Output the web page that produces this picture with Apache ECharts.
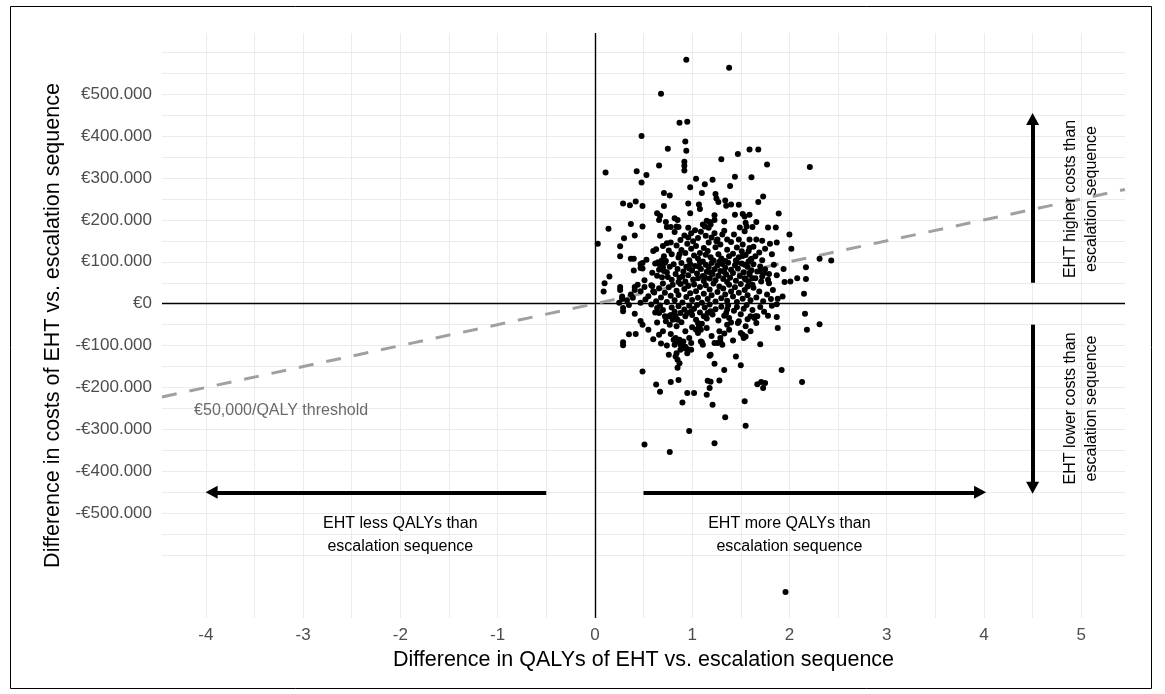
<!doctype html>
<html>
<head>
<meta charset="utf-8">
<title>Cost-effectiveness plane</title>
<script src="https://cdn.jsdelivr.net/npm/echarts@6.0.0/dist/echarts.min.js"></script>
<style>
    html, body { margin: 0; padding: 0; background: #fff; }
    #main { width: 1165px; height: 694px; }
</style>
</head>
<body>
<div id="main"></div>
<script>
// axis setup (QALYs on x, costs in thousands of euro on y)
var xTicks = [-4, -3, -2, -1, 0, 1, 2, 3, 4, 5];
var yTicksK = [-500, -400, -300, -200, -100, 0, 100, 200, 300, 400, 500];
var xGrid = [-4, -3.5, -3, -2.5, -2, -1.5, -1, -0.5, 0, 0.5, 1, 1.5, 2, 2.5, 3, 3.5, 4, 4.5, 5];
var yGridK = [-600, -550, -500, -450, -400, -350, -300, -250, -200, -150, -100, -50, 0,
    50, 100, 150, 200, 250, 300, 350, 400, 450, 500, 550, 600];
var xRange = [-4.45, 5.45];
var yRangeK = [-750, 646];
var thresholdK = 50; // 50.000 euro per QALY

// simulated differences [QALY, cost k€]
var psaPoints = [
    // upper part
    [0.94,582],[1.38,563],[0.68,501],[0.87,432],[0.95,434],[0.48,400],[0.93,387],[0.75,370],[0.94,365],
    [1.59,368],[1.68,368],[1.47,357],[1.30,345],[0.92,339],[0.92,329],[0.92,318],[0.66,330],[0.11,313],
    [0.43,316],[0.53,307],[0.48,289],[1.04,298],[1.21,296],[1.44,303],[1.61,302],[1.77,332],[2.21,326],
    [1.13,285],[0.98,278],[1.39,281],[0.71,264],[0.77,258],[1.10,264],[1.24,262],[1.25,251],[1.27,243],
    [1.34,246],[1.35,234],[0.29,239],[0.36,235],[0.42,244],[0.49,233],[0.71,233],[0.96,239],[1.07,237],
    [1.08,226],[0.98,216],[1.40,237],[1.48,236],[1.44,212],[1.52,214],[1.59,212],[1.73,256],[1.68,243],
    [0.64,216],[0.67,210],[0.66,200],[0.82,204],[0.85,200],[1.23,211],[1.23,200],[0.37,190],[0.49,184],
    [0.14,179],[0.73,195],[0.74,183],[0.78,183],[0.84,184],[0.86,183],[0.96,181],[1.11,189],[1.15,198],
    [1.18,195],[1.19,189],[1.13,184],[1.17,181],[1.33,196],[1.49,182],[1.55,193],[1.56,184],[1.54,208],
    [1.89,215],[1.66,195],[1.62,183],[1.78,182],[1.86,182],
    // 100 - 175
    [0.30,156],[0.41,163],[0.67,162],[0.92,163],[0.96,158],[0.99,168],[1.06,157],[1.14,162],[1.23,168],
    [1.26,153],[1.31,165],[1.36,153],[1.43,165],[1.48,153],[1.54,173],[1.59,153],[2.00,165],[1.66,153],
    [1.72,150],[1.80,143],[1.87,146],[0.03,143],[0.26,137],[0.26,113],[0.37,107],[0.40,107],[0.53,105],
    [0.47,95],[0.60,126],[0.63,130],[0.70,138],[0.74,144],[0.78,146],[0.65,99],[0.69,104],[0.73,102],
    [2.02,131],[2.31,107],[2.43,103],[1.59,133],[1.58,125],[1.52,114],[1.54,93],[1.60,105],[1.65,113],
    [0.82,171],[0.88,152],[1.01,149],[1.09,172],[1.17,146],[1.20,158],[1.29,141],[1.33,174],[1.40,147],
    [1.46,134],[1.52,141],[1.63,136],[1.69,122],[1.75,131],[0.84,139],[0.89,128],[0.95,143],[0.99,131],
    [1.04,138],[1.08,121],[1.12,133],[1.16,126],[1.24,135],[1.27,118],[1.36,129],[1.42,119],[1.48,111],
    [1.55,116],[1.61,107],[0.79,118],[0.86,110],[0.93,121],[0.97,104],[1.02,115],[1.06,108],[1.11,101],
    [1.14,117],[1.19,111],[1.22,103],[1.30,108],[1.34,102],[1.38,113],[1.45,103],[1.51,125],[1.58,101],
    [1.72,104],[1.82,118],[1.25,149],[1.03,175],[0.87,118],[0.76,127],[0.71,113],
    // 50 - 100
    [0.49,84],[0.40,79],[0.59,74],[0.51,56],[0.67,92],[0.70,87],[2.17,87],[2.17,59],[1.94,83],[2.08,61],
    [2.01,53],[1.95,52],[1.87,68],[0.15,65],[0.10,49],[1.54,61],[1.62,61],[1.59,73],[1.71,53],[1.78,57],
    [1.71,77],[1.74,73],[0.47,85],[0.49,97],
    [0.62,96],[0.66,81],[0.69,63],[0.72,98],[0.74,75],[0.77,88],[0.79,57],[0.81,94],[0.83,71],[0.85,83],
    [0.87,62],[0.89,97],[0.91,77],[0.93,53],[0.94,88],[0.96,68],[0.98,95],[1.00,79],[1.01,58],[1.03,90],
    [1.05,72],[1.06,61],[1.08,99],[1.09,83],[1.11,66],[1.12,54],[1.14,93],[1.15,76],[1.17,87],[1.18,60],
    [1.20,97],[1.21,71],[1.23,82],[1.24,56],[1.26,91],[1.27,67],[1.29,78],[1.31,95],[1.32,59],[1.34,86],
    [1.35,70],[1.37,98],[1.39,62],[1.40,81],[1.42,73],[1.44,92],[1.45,55],[1.47,84],[1.49,66],[1.51,96],
    [1.53,75],[1.55,58],[1.57,88],[1.59,69],[1.61,80],[1.63,94],[1.65,61],[1.67,77],[1.70,89],[1.72,65],
    [1.75,82],[1.79,71],[1.84,93],[0.64,67],[0.75,64],[0.86,52],[0.97,84],[1.07,88],[1.19,74],[1.28,100],
    [1.36,52],[1.46,99],[1.58,53],[0.71,78],[0.90,65],[1.13,63],[1.33,76],
    // 0 - 50
    [2.15,24],[1.88,12],[1.87,-1],[1.57,41],[1.62,45],[1.79,49],[1.83,33],[0.09,29],[0.26,33],[0.28,11],
    [0.37,22],[0.41,33],[0.47,30],[0.52,10],[0.59,42],[0.60,30],[0.47,2],[0.26,40],[0.28,17],[0.41,40],
    [0.51,40],
    [0.55,18],[0.58,44],[0.61,27],[0.63,6],[0.66,37],[0.68,15],[0.70,48],[0.72,26],[0.74,4],[0.76,39],
    [0.78,19],[0.80,45],[0.82,8],[0.84,31],[0.86,21],[0.88,47],[0.90,3],[0.92,35],[0.94,16],[0.96,42],
    [0.98,25],[1.00,9],[1.02,46],[1.04,30],[1.06,14],[1.08,40],[1.10,2],[1.12,24],[1.14,44],[1.16,11],
    [1.18,34],[1.20,20],[1.22,48],[1.24,5],[1.26,28],[1.28,41],[1.30,13],[1.32,36],[1.34,22],[1.36,7],
    [1.38,45],[1.40,29],[1.42,17],[1.44,39],[1.46,4],[1.48,26],[1.50,47],[1.52,12],[1.54,33],[1.57,20],
    [1.60,8],[1.63,38],[1.66,15],[1.69,29],[1.73,6],[1.77,22],[1.81,11],[0.33,8],[0.39,14],[0.44,45],
    [0.25,2],[1.93,17],
    // -50 - 0
    [0.29,-10],[0.29,-18],[0.47,-41],[0.49,-50],[0.64,-45],[0.76,-30],[0.80,-34],[0.84,-54],[2.16,-24],
    [2.18,-62],[2.31,-49],[1.87,-32],[1.88,-58],[1.78,-29],[1.57,-37],[1.64,-34],[1.66,-46],[1.67,-30],
    [0.66,-22],[0.64,-10],[0.58,-2],[0.78,-27],[0.83,-30],[0.85,-38],[0.88,-22],[0.92,-14],[0.95,-22],
    [0.99,-18],[1.04,-38],[1.06,-46],[1.07,-54],[1.04,-62],[1.06,-70],[1.09,-62],[1.12,-30],[1.16,-22],
    [1.19,-18],[1.35,-22],[1.36,-14],[1.38,-34],[1.47,-46],[1.48,-42],[1.50,-70],[1.60,-30],[1.53,-82],
    [1.55,-54],[1.65,-30],
    [0.62,-21],[0.67,-4],[0.70,-15],[0.73,-42],[0.79,-9],[0.82,-19],[0.86,-6],[0.89,-44],[0.93,-30],
    [0.97,-5],[1.00,-27],[1.02,-12],[1.05,-3],[1.08,-21],[1.10,-48],[1.13,-9],[1.15,-35],[1.18,-2],
    [1.21,-26],[1.24,-13],[1.27,-40],[1.30,-7],[1.33,-29],[1.37,-4],[1.40,-45],[1.43,-17],[1.46,-8],
    [1.50,-25],[1.53,-12],[1.56,-3],[1.62,-15],[1.70,-8],[1.74,-19],[1.82,-5],[0.41,-24],[0.35,-3],
    // -150 - -50
    [0.35,-73],[0.42,-72],[0.29,-92],[0.29,-99],[0.74,-100],[0.76,-122],[0.83,-82],[0.85,-90],[0.87,-86],
    [0.88,-98],[0.82,-98],[0.85,-134],[0.87,-142],[0.85,-153],[0.99,-110],[0.95,-118],[1.09,-90],
    [1.11,-98],[1.19,-122],[1.23,-94],[1.26,-94],[1.29,-90],[1.31,-98],[1.28,-66],[1.29,-82],[1.38,-62],
    [1.36,-50],[0.83,-126],[0.88,-110],[0.92,-106],[0.99,-94],[0.97,-82],[0.66,-74],[0.70,-66],[0.77,-50],
    [0.80,-38],[0.72,-30],[0.81,-86],[0.91,-90],[0.90,-100],[0.93,-103],[0.84,-118],[0.95,-108],[1.10,-92],
    [0.55,-62],[0.60,-85],[0.78,-72],[0.93,-66],[1.15,-58],[1.20,-77],[1.33,-71],[1.42,-88],[1.60,-66],
    [1.70,-97],[1.00,-56],[0.68,-95],[1.52,-74],[1.55,-78],
    // lower tail
    [0.49,-162],[0.63,-193],[0.67,-210],[0.78,-187],[0.86,-182],[0.95,-213],[1.02,-213],[1.16,-184],
    [1.19,-186],[1.18,-201],[1.15,-217],[1.28,-183],[1.18,-124],[1.23,-143],[1.33,-158],[1.45,-126],
    [1.50,-147],[1.92,-158],[2.13,-187],[1.67,-192],[1.71,-187],[1.75,-189],[1.73,-201],[0.90,-236],
    [1.21,-241],[1.54,-233],[1.34,-271],[1.55,-291],[0.97,-304],[0.51,-336],[1.23,-333],[0.77,-354],
    [1.96,-688]
];

// quadrant arrows [from, to]
var arrows = [
    [[-0.5, -450], [-3.94, -450]],
    [[0.5, -450], [3.96, -450]],
    [[4.5, 50], [4.5, 441]],
    [[4.5, -50], [4.5, -439]]
];

var notes = [
    { pos: [-2, -552], text: 'EHT less QALYs than\nescalation sequence', rotate: 0 },
    { pos: [2, -552], text: 'EHT more QALYs than\nescalation sequence', rotate: 0 },
    { pos: [5, 250], text: 'EHT higher costs than\nescalation sequence', rotate: 90 },
    { pos: [5, -250], text: 'EHT lower costs than\nescalation sequence', rotate: 90 }
];
var thresholdNote = { pos: [-4.12, -255], text: '€50,000/QALY threshold' };

var FONT = '"Liberation Sans", Arial, sans-serif';

function euroK(v) {
    if (v === 0) return '€0';
    return (v < 0 ? '-' : '') + '€' + Math.abs(v) + '.000';
}

var myChart = echarts.init(document.getElementById('main'));

var noteData = notes.map(function (n) {
    return {
        value: n.pos,
        label: { formatter: n.text, rotate: n.rotate, lineHeight: n.rotate ? 21 : 23 }
    };
});
noteData.push({
    value: thresholdNote.pos,
    label: { formatter: thresholdNote.text, align: 'left', color: '#6a6a6a' }
});

var option = {
    animation: false,
    backgroundColor: '#fff',
    textStyle: { fontFamily: FONT },
    grid: { left: 162, right: 40, top: 33, bottom: 76, containLabel: false, outerBoundsMode: 'none' },
    graphic: [{
        type: 'rect',
        shape: { x: 10.5, y: 6.5, width: 1141, height: 682 },
        style: { fill: 'none', stroke: '#000', lineWidth: 1 },
        silent: true
    }],
    xAxis: {
        type: 'value',
        min: xRange[0],
        max: xRange[1],
        name: 'Difference in QALYs of EHT vs. escalation sequence',
        nameLocation: 'middle',
        nameGap: 31,
        nameTextStyle: { fontSize: 21.5, color: '#000', fontFamily: FONT },
        axisLine: { show: false },
        axisTick: { show: false },
        splitLine: { show: false },
        axisLabel: {
            customValues: xTicks,
            fontSize: 17,
            color: '#4d4d4d',
            margin: 9,
            fontFamily: FONT
        }
    },
    yAxis: {
        type: 'value',
        min: yRangeK[0],
        max: yRangeK[1],
        name: 'Difference in costs of EHT vs. escalation sequence',
        nameLocation: 'middle',
        nameGap: 92,
        nameTextStyle: { fontSize: 21.5, color: '#000', fontFamily: FONT },
        axisLine: { show: false },
        axisTick: { show: false },
        splitLine: { show: false },
        axisLabel: {
            customValues: yTicksK,
            formatter: euroK,
            fontSize: 17,
            color: '#4d4d4d',
            margin: 10,
            fontFamily: FONT
        }
    },
    series: [
        {
            // background grid
            type: 'line',
            data: [],
            z: 1,
            silent: true,
            markLine: {
                z: 1,
                silent: true,
                symbol: 'none',
                label: { show: false },
                lineStyle: { color: '#ebebeb', width: 1, type: 'solid' },
                emphasis: { disabled: true },
                data: xGrid.map(function (v) { return { xAxis: v }; })
                    .concat(yGridK.map(function (v) { return { yAxis: v }; }))
            }
        },
        {
            // zero lines
            type: 'line',
            data: [],
            z: 2,
            silent: true,
            markLine: {
                z: 2,
                silent: true,
                symbol: 'none',
                label: { show: false },
                lineStyle: { color: '#000', width: 1.4, type: 'solid' },
                emphasis: { disabled: true },
                data: [{ xAxis: 0 }, { yAxis: 0 }]
            }
        },
        {
            // willingness-to-pay threshold
            type: 'line',
            z: 3,
            silent: true,
            symbol: 'none',
            lineStyle: { color: '#a0a0a0', width: 3, type: [15, 13] },
            data: [[xRange[0], xRange[0] * thresholdK], [xRange[1], xRange[1] * thresholdK]]
        },
        {
            type: 'scatter',
            z: 4,
            symbolSize: 6,
            itemStyle: { color: '#000', opacity: 1 },
            data: psaPoints
        },
        {
            // arrows
            type: 'line',
            data: [],
            z: 5,
            silent: true,
            markLine: {
                z: 5,
                silent: true,
                symbol: ['none', 'triangle'],
                symbolSize: [13, 12],
                label: { show: false },
                lineStyle: { color: '#000', width: 4, type: 'solid' },
                itemStyle: { color: '#000' },
                emphasis: { disabled: true },
                data: arrows.map(function (a) {
                    return [{ coord: a[0] }, { coord: a[1] }];
                })
            }
        },
        {
            // text annotations
            type: 'scatter',
            z: 6,
            silent: true,
            symbolSize: 1,
            itemStyle: { color: 'rgba(0,0,0,0)', opacity: 1 },
            label: {
                show: true,
                position: 'inside',
                align: 'center',
                verticalAlign: 'middle',
                fontSize: 16,
                color: '#000',
                fontFamily: FONT
            },
            data: noteData
        }
    ]
};

myChart.setOption(option);
</script>
</body>
</html>
